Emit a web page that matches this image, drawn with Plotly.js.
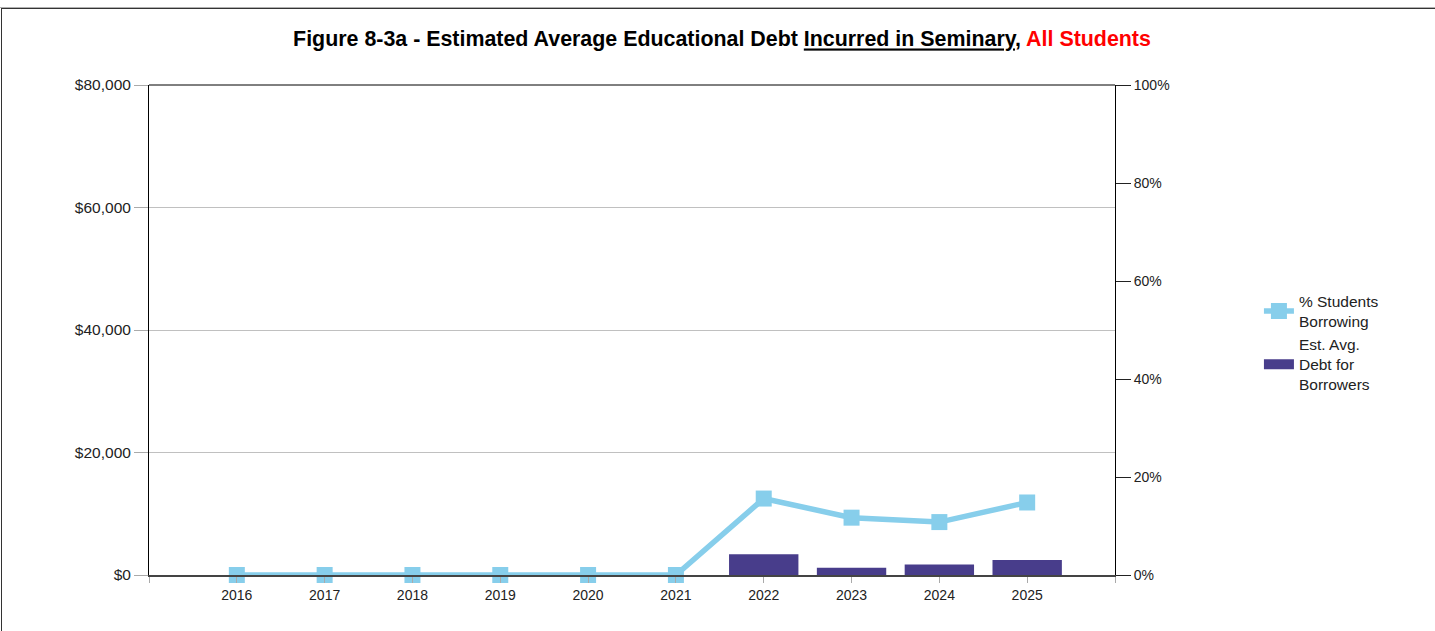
<!DOCTYPE html>
<html>
<head>
<meta charset="utf-8">
<script src="https://cdn.plot.ly/plotly-3.0.1.min.js"></script>
<style>
  html, body { margin: 0; padding: 0; background: #fff; overflow: hidden; }
  #chart { position: absolute; left: 0; top: 0; width: 1435px; height: 631px; }
  #frame1 { position: absolute; left: 0; top: 7px; width: 1440px; height: 640px; border-top: 1px solid #b0b0b0; pointer-events: none; }
  #frame2 { position: absolute; left: 1px; top: 8px; width: 1440px; height: 640px; border-top: 1px solid #333; border-left: 1px solid #333; pointer-events: none; }
</style>
</head>
<body>
<div id="chart"></div>
<div id="frame1"></div>
<div id="frame2"></div>
<script>
const years = [2016, 2017, 2018, 2019, 2020, 2021, 2022, 2023, 2024, 2025];
const pctBorrowing = [0, 0, 0, 0, 0, 0, 15.6, 11.7, 10.8, 14.8];
const avgDebt = [0, 0, 0, 0, 0, 0, 3400, 1200, 1700, 2450];
const tickYears = [2015, 2016, 2017, 2018, 2019, 2020, 2021, 2022, 2023, 2024, 2025, 2026];
const tickLabels = ['', '2016', '2017', '2018', '2019', '2020', '2021', '2022', '2023', '2024', '2025', ''];

const font = 'Liberation Sans, Arial, sans-serif';
const barColor = '#483D8B';
const lineColor = '#87CEEB';

const data = [
  {
    type: 'scatter', mode: 'lines+markers', name: '% Students<br>Borrowing',
    x: years, y: pctBorrowing, yaxis: 'y2', cliponaxis: false,
    line: { color: lineColor, width: 5.5 },
    marker: { color: lineColor, symbol: 'square', size: 16 }
  },
  {
    type: 'bar', name: 'Est. Avg.<br>Debt for<br>Borrowers', showlegend: false,
    legendgroup: 'debt',
    x: years, y: avgDebt, yaxis: 'y',
    marker: { color: barColor, line: { width: 0 } }
  },
  {
    // legend swatch for the bar series (wide rectangle like the reference)
    type: 'scatter', mode: 'lines', name: 'Est. Avg.<br>Debt for<br>Borrowers',
    legendgroup: 'debt', x: [null], y: [null], yaxis: 'y', hoverinfo: 'skip',
    line: { color: barColor, width: 14 }
  }
];

const layout = {
  width: 1435, height: 631,
  margin: { l: 149, r: 320, t: 85, b: 56 },
  paper_bgcolor: '#fff', plot_bgcolor: '#fff',
  font: { family: font, size: 14, color: '#222' },
  title: {
    text: '<b>Figure 8-3a - Estimated Average Educational Debt <u>Incurred in Seminary</u>, <span style="color:#ff0000">All Students</span></b>',
    font: { family: font, size: 21.4, color: '#000' },
    x: 722 / 1435, xref: 'container', xanchor: 'center', y: 1 - 39 / 631, yref: 'container', yanchor: 'middle'
  },
  bargap: 0.21,
  showlegend: true,
  legend: {
    x: 1.149, xanchor: 'left', y: 0.474, yanchor: 'middle',
    font: { family: font, size: 15.5, color: '#222' },
    tracegroupgap: 0, bgcolor: 'rgba(0,0,0,0)', traceorder: 'normal'
  },
  xaxis: {
    range: [2015, 2026], tickmode: 'array', tickvals: tickYears, ticktext: tickLabels,
    showgrid: false, zeroline: false,
    showline: true, linecolor: '#444', linewidth: 2,
    ticks: 'outside', ticklen: 6, tickcolor: '#aaa', tickwidth: 1,
    tickfont: { family: font, size: 14, color: '#222' }
  },
  yaxis: {
    range: [0, 80000], tickmode: 'linear', tick0: 0, dtick: 20000,
    tickprefix: '$', tickformat: ',d',
    showgrid: true, gridcolor: '#c0c0c0', gridwidth: 1, zeroline: false,
    showline: true, linecolor: '#000', linewidth: 1,
    ticks: 'outside', ticklen: 14, tickcolor: '#aaa', tickwidth: 1,
    tickfont: { family: font, size: 15.5, color: '#222' }, fixedrange: true
  },
  yaxis2: {
    range: [0, 100], overlaying: 'y', side: 'right', tickmode: 'linear', tick0: 0, dtick: 20,
    ticksuffix: '%', showgrid: false, zeroline: false,
    showline: true, linecolor: '#000', linewidth: 1,
    ticks: 'outside', ticklen: 15, tickcolor: '#222', tickwidth: 1,
    tickfont: { family: font, size: 14, color: '#222' }
  },
  shapes: [
    { type: 'line', xref: 'paper', yref: 'paper', x0: 0, x1: 1, y0: 1, y1: 1, line: { color: '#000', width: 1 } }
  ]
};

Plotly.newPlot('chart', data, layout, { displayModeBar: false, staticPlot: true });
</script>
</body>
</html>
